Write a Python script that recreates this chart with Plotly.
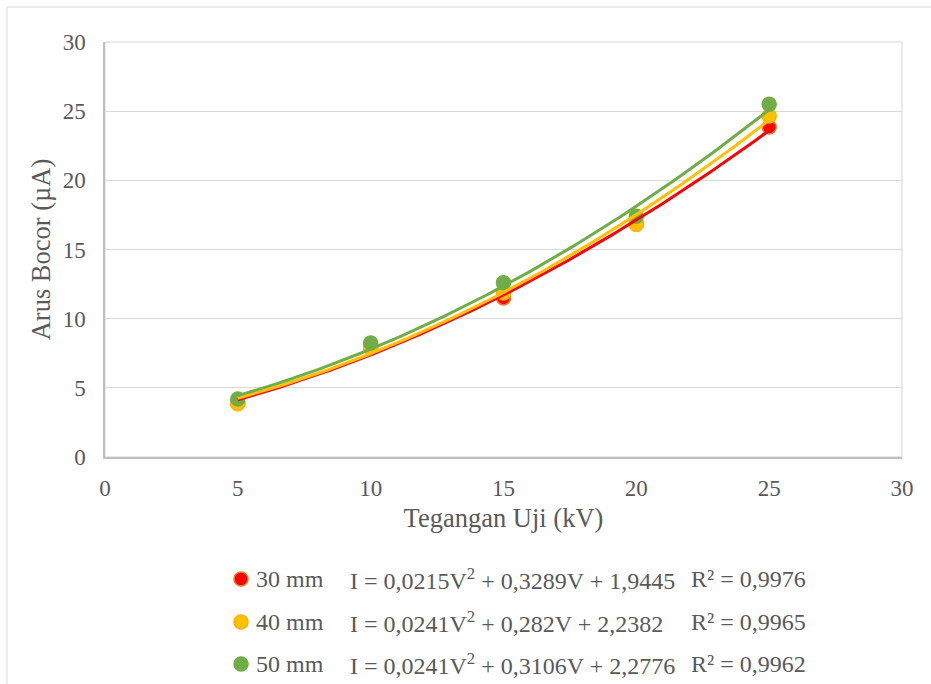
import numpy as np
import plotly.graph_objects as go

# Measured leakage current for three electrode gap distances
voltage = [5, 10, 15, 20, 25]  # kV
gap_labels = ["30 mm", "40 mm", "50 mm"]
current_30 = [3.9, 7.9, 11.5, 16.9, 23.85]
current_40 = [3.85, 7.9, 11.85, 16.8, 24.65]
current_50 = [4.2, 8.25, 12.6, 17.4, 25.5]

# Polynomial trendline coefficients (a*V^2 + b*V + c) and R^2
coef_30 = [0.0215, 0.3289, 1.9445]
coef_40 = [0.0241, 0.282, 2.2382]
coef_50 = [0.0241, 0.3106, 2.2776]
eq_30 = "I = 0,0215V<sup>2</sup> + 0,3289V + 1,9445"
eq_40 = "I = 0,0241V<sup>2</sup> + 0,282V + 2,2382"
eq_50 = "I = 0,0241V<sup>2</sup> + 0,3106V + 2,2776"
r2_30 = "R² = 0,9976"
r2_40 = "R² = 0,9965"
r2_50 = "R² = 0,9962"

x_ticks = [0, 5, 10, 15, 20, 25, 30]
y_ticks = [0, 5, 10, 15, 20, 25, 30]

FONT = "Liberation Serif, Times New Roman, serif"
TXT = "#595959"
W, H = 931, 684
L, R, T, B = 105, 902, 42, 457

series = [
    (gap_labels[0], current_30, coef_30, eq_30, r2_30, "#FF0000", "#ED7D31"),
    (gap_labels[1], current_40, coef_40, eq_40, r2_40, "#FFC000", "#FFB000"),
    (gap_labels[2], current_50, coef_50, eq_50, r2_50, "#70AD47", "#70AD47"),
]

fig = go.Figure()

v_fit = np.linspace(min(voltage), max(voltage), 200)
for name, ys, coef, eq, r2, col, edge in series:
    fig.add_trace(go.Scatter(
        x=voltage, y=ys, mode="markers", name=name, showlegend=False,
        marker=dict(size=14, color=col, line=dict(color=edge, width=1.5)),
    ))
for name, ys, coef, eq, r2, col, edge in series:
    fig.add_trace(go.Scatter(
        x=v_fit, y=np.polyval(coef, v_fit), mode="lines", showlegend=False,
        line=dict(color=col, width=3), hoverinfo="skip",
    ))


def px(x):
    return (x - L) / (R - L)


def py(y):
    return (B - y) / (B - T)


shapes = [
    # outer chart frame
    dict(type="rect", xref="paper", yref="paper", x0=px(7), x1=px(W + 20),
         y0=py(H + 20), y1=py(7), line=dict(color="#d9d9d9", width=1), layer="below"),
    # plot area frame
    dict(type="rect", xref="paper", yref="paper", x0=0, x1=1, y0=0, y1=1,
         line=dict(color="#e3e3e3", width=1.5), layer="below"),
]
annotations = []
rows_y = [579, 622, 664]
for (name, ys, coef, eq, r2, col, edge), ry in zip(series, rows_y):
    shapes.append(dict(
        type="circle", xref="paper", yref="paper",
        xsizemode="pixel", ysizemode="pixel",
        xanchor=px(241), yanchor=py(ry), x0=-7, x1=7, y0=-7, y1=7,
        fillcolor=col, line=dict(color=edge, width=1.5),
    ))
    for text, xpos in [(name, 254), (eq, 348), (r2, 689)]:
        annotations.append(dict(
            text=text, xref="paper", yref="paper", x=px(xpos), y=py(ry),
            xanchor="left", yanchor="middle", showarrow=False,
            font=dict(family=FONT, size=24, color=TXT),
        ))

fig.update_layout(
    width=W, height=H,
    margin=dict(l=L, r=W - R, t=T, b=H - B),
    paper_bgcolor="white", plot_bgcolor="white",
    font=dict(family=FONT, size=23, color=TXT),
    shapes=shapes, annotations=annotations,
    xaxis=dict(
        range=[0, 30], tickvals=x_ticks, showgrid=False, zeroline=False,
        showline=True, linecolor="#bfbfbf", linewidth=1.5,
        ticks="", ticklabelstandoff=10,
        tickfont=dict(family=FONT, size=23, color=TXT),
        title=dict(text="Tegangan Uji (kV)", standoff=8,
                   font=dict(family=FONT, size=26.5, color=TXT)),
    ),
    yaxis=dict(
        range=[0, 30], tickvals=y_ticks, showgrid=True, gridcolor="#d9d9d9",
        gridwidth=1, zeroline=False,
        showline=True, linecolor="#bfbfbf", linewidth=1.5,
        ticks="", ticklabelstandoff=13,
        tickfont=dict(family=FONT, size=23, color=TXT),
        title=dict(text="Arus Bocor (µA)", standoff=4,
                   font=dict(family=FONT, size=26.5, color=TXT)),
    ),
)

fig.write_html("out.html")
